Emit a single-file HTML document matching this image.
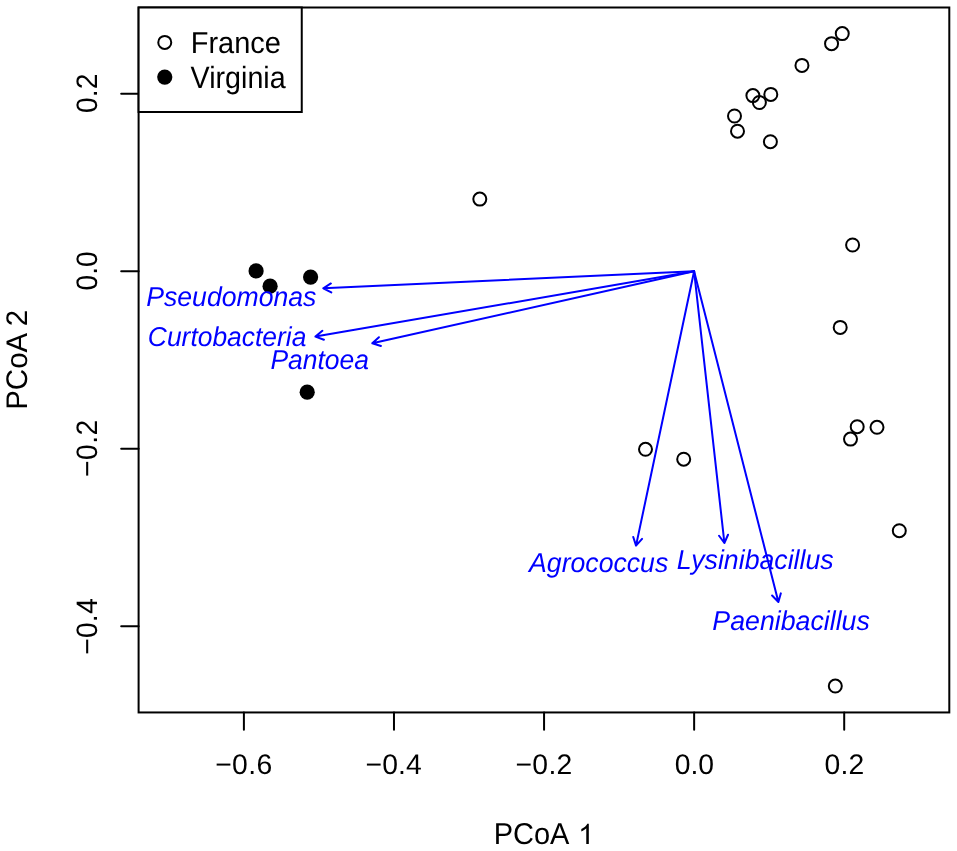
<!DOCTYPE html>
<html><head><meta charset="utf-8"><title>PCoA biplot</title><style>html,body{margin:0;padding:0;background:#fff;overflow:hidden;}svg{display:block;will-change:transform;}text{font-family:"Liberation Sans",sans-serif;text-rendering:geometricPrecision;}</style></head><body>
<svg width="957" height="851" viewBox="0 0 957 851">
<rect width="957" height="851" fill="#fff"/>
<g fill="none" stroke="#000" stroke-width="2.0">
<circle cx="842.25" cy="33.6" r="6.5"/>
<circle cx="831.55" cy="43.65" r="6.5"/>
<circle cx="801.96" cy="65.4" r="6.5"/>
<circle cx="752.9" cy="95.6" r="6.5"/>
<circle cx="770.8" cy="94.4" r="6.5"/>
<circle cx="759.4" cy="102.5" r="6.5"/>
<circle cx="734.5" cy="116.0" r="6.5"/>
<circle cx="737.5" cy="131.2" r="6.5"/>
<circle cx="770.4" cy="141.7" r="6.5"/>
<circle cx="479.8" cy="199.1" r="6.5"/>
<circle cx="852.6" cy="245.0" r="6.5"/>
<circle cx="840.2" cy="327.4" r="6.5"/>
<circle cx="857.2" cy="426.7" r="6.5"/>
<circle cx="850.5" cy="439.1" r="6.5"/>
<circle cx="877.0" cy="427.3" r="6.5"/>
<circle cx="899.3" cy="530.7" r="6.5"/>
<circle cx="645.5" cy="449.3" r="6.5"/>
<circle cx="683.7" cy="459.2" r="6.5"/>
<circle cx="835.3" cy="686.06" r="6.5"/>
</g><g fill="#000">
<circle cx="256.1" cy="270.9" r="7.6"/>
<circle cx="270.1" cy="286.2" r="7.6"/>
<circle cx="310.6" cy="277.1" r="7.6"/>
<circle cx="307.2" cy="392.2" r="7.6"/>
</g>
<g fill="none" stroke="#00f" stroke-width="2" stroke-linecap="round" stroke-linejoin="round">
<path d="M694.10,271.30L323.30,288.30M330.88,283.45L323.30,288.30L331.29,292.44"/>
<path d="M694.10,271.30L315.45,336.60M322.37,330.84L315.45,336.60L323.90,339.71"/>
<path d="M694.10,271.30L372.30,343.30M378.92,337.21L372.30,343.30L380.89,345.99"/>
<path d="M694.10,271.30L636.04,545.60M633.25,537.04L636.04,545.60L642.06,538.91"/>
<path d="M694.10,271.30L724.40,543.00M719.06,535.75L724.40,543.00L728.01,534.76"/>
<path d="M694.10,271.30L778.40,602.00M772.11,595.56L778.40,602.00L780.84,593.34"/>
</g>
<text transform="translate(146.23,306.00) scale(1,1.0265)" font-size="26.62" font-style="italic" fill="#00f">Pseudomonas</text>
<text transform="translate(147.85,346.00) scale(1,1.0343)" font-size="26.421" font-style="italic" fill="#00f">Curtobacteria</text>
<text transform="translate(270.38,369.00) scale(1,1.0319)" font-size="26.481" font-style="italic" fill="#00f">Pantoea</text>
<text transform="translate(529.07,572.00) scale(1,1.0253)" font-size="26.653" font-style="italic" fill="#00f">Agrococcus</text>
<text transform="translate(676.84,569.00) scale(1,1.0227)" font-size="26.719" font-style="italic" fill="#00f">Lysinibacillus</text>
<text transform="translate(712.37,630.00) scale(1,1.0224)" font-size="26.727" font-style="italic" fill="#00f">Paenibacillus</text>
<rect x="138.6" y="7.5" width="810.6999999999999" height="704.95" fill="none" stroke="#000" stroke-width="2"/>
<g stroke="#000" stroke-width="2" stroke-linecap="round">
<line x1="243.9" y1="712.45" x2="243.9" y2="729.85"/>
<line x1="393.98" y1="712.45" x2="393.98" y2="729.85"/>
<line x1="544.06" y1="712.45" x2="544.06" y2="729.85"/>
<line x1="694.14" y1="712.45" x2="694.14" y2="729.85"/>
<line x1="844.2" y1="712.45" x2="844.2" y2="729.85"/>
<line x1="138.6" y1="93.8" x2="121.19999999999999" y2="93.8"/>
<line x1="138.6" y1="271.3" x2="121.19999999999999" y2="271.3"/>
<line x1="138.6" y1="448.8" x2="121.19999999999999" y2="448.8"/>
<line x1="138.6" y1="626.3" x2="121.19999999999999" y2="626.3"/>
</g>
<text letter-spacing="0.357" transform="translate(243.87,774.00)" font-size="28.3" text-anchor="middle" fill="#000">−0.6</text>
<text letter-spacing="0.117" transform="translate(393.66,774.00)" font-size="28.3" text-anchor="middle" fill="#000">−0.4</text>
<text letter-spacing="0.351" transform="translate(544.04,774.00)" font-size="28.3" text-anchor="middle" fill="#000">−0.2</text>
<text letter-spacing="-0.095" transform="translate(694.35,774.00)" font-size="28.3" text-anchor="middle" fill="#000">0.0</text>
<text letter-spacing="0.18" transform="translate(844.52,774.00)" font-size="28.3" text-anchor="middle" fill="#000">0.2</text>
<text letter-spacing="0.07" transform="translate(97.00,93.30) rotate(-90) scale(1,1.045)" font-size="28.3" text-anchor="middle" fill="#000">0.2</text>
<text letter-spacing="-0.02" transform="translate(97.00,270.85) rotate(-90) scale(1,1.045)" font-size="28.3" text-anchor="middle" fill="#000">0.0</text>
<text letter-spacing="0.493" transform="translate(97.00,448.10) rotate(-90) scale(1,1.045)" font-size="28.3" text-anchor="middle" fill="#000">−0.2</text>
<text letter-spacing="0.19" transform="translate(97.00,626.50) rotate(-90) scale(1,1.045)" font-size="28.3" text-anchor="middle" fill="#000">−0.4</text>
<text transform="translate(493.70,844.00) scale(1,1.036)" font-size="29" fill="#000">PCoA<tspan fill="none"> 1</tspan></text>
<path transform="translate(578.01,843.9) scale(0.01416,-0.01371)" d="M583,0L763,0L763,1466L650,1466C618,1380 545,1290 445,1210C365,1150 292,1100 233,1078L233,912C300,940 382,975 452,1025C512,1070 556,1110 583,1140Z" fill="#000"/>
<text transform="translate(27.00,359.83) rotate(-90) scale(1,1.0094)" font-size="29.5" text-anchor="middle" fill="#000">PCoA 2</text>
<rect x="138.6" y="7.5" width="163.15" height="104.5" fill="#fff" stroke="#000" stroke-width="2"/>
<circle cx="164.76" cy="42.4" r="6.5" fill="none" stroke="#000" stroke-width="2.0"/>
<circle cx="164.76" cy="77.05" r="7.6" fill="#000"/>
<text transform="translate(190.68,53.00) scale(1,1.04)" font-size="29.0" fill="#000">France</text>
<text transform="translate(190.61,88.00) scale(1,1.075)" font-size="28.66" fill="#000">Virginia</text>
</svg></body></html>
